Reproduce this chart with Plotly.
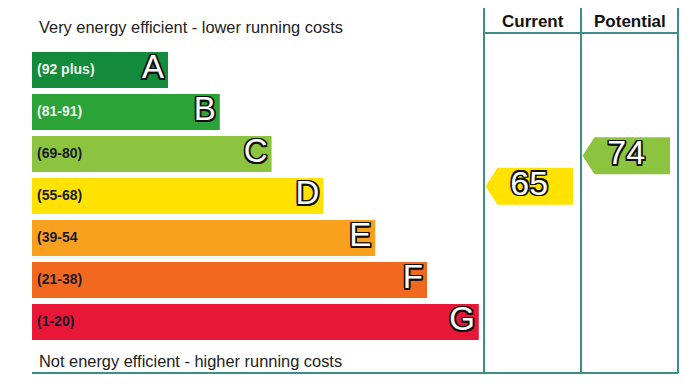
import numpy as np
import plotly.graph_objects as go

# ---- data ----
bands = ["A", "B", "C", "D", "E", "F", "G"]
range_labels = ["(92 plus)", "(81-91)", "(69-80)", "(55-68)", "(39-54", "(21-38)", "(1-20)"]
band_low = [92, 81, 69, 55, 39, 21, 1]
band_high = [100, 91, 80, 68, 54, 38, 20]
current_score = 65
potential_score = 74
columns = ["Current", "Potential"]
top_caption = "Very energy efficient - lower running costs"
bottom_caption = "Not energy efficient - higher running costs"

# ---- styles / layout constants ----
band_colors = ["#138a3c", "#2ca336", "#8dc43f", "#ffe200", "#f9a11e", "#f3681f", "#e81737"]
label_colors = ["#eef5ee", "#eef5ee", "#1a1a2a", "#1a1a2a", "#1a1a2a", "#1a1a2a", "#1a1a2a"]
LINE = "#3f8d8b"
BAR_LEFT = 32
BAR_FIRST_LEN = 136
BAR_STEP = 51.8
ROW0 = 70
ROW_PITCH = 42
BAR_H = 36
COL_X = [484, 581, 678]
TOP_Y, HEAD_Y, BOTTOM_Y = 8, 33, 373
FONT = "Liberation Sans, Arial, sans-serif"
PAGE_MARGIN = 8  # default body margin of the html page
W, H = 700, 391

n = len(bands)
idx = np.arange(n)
centers = ROW0 + ROW_PITCH * idx
lengths = BAR_FIRST_LEN + BAR_STEP * idx
ends = BAR_LEFT + lengths

outline = ", ".join(f"{dx}px {dy}px 0 #111" for dx, dy in
                    [(-1.5, -1.5), (1.5, -1.5), (-1.5, 1.5), (1.5, 1.5),
                     (0, 1.6), (0, -1.6), (1.6, 0), (-1.6, 0)])

fig = go.Figure()

fig.add_trace(go.Bar(
    orientation="h", y=centers, x=lengths, base=BAR_LEFT, width=BAR_H,
    marker=dict(color=band_colors, line=dict(width=0)), hoverinfo="skip"))

# range labels
fig.add_trace(go.Scatter(
    x=[BAR_LEFT + 5] * n, y=centers, mode="text", text=range_labels,
    textposition="middle right",
    textfont=dict(family=FONT, size=14, color=label_colors, weight="bold"),
    hoverinfo="skip"))

# band letters
fig.add_trace(go.Scatter(
    x=ends - 4, y=centers, mode="text", text=bands,
    textposition="middle left",
    textfont=dict(family=FONT, size=33, color="white", shadow=outline),
    hoverinfo="skip"))


def score_to_y(s):
    for i in range(n):
        if s >= band_low[i]:
            top = centers[i] - BAR_H / 2
            frac = (band_high[i] - s) / (band_high[i] - band_low[i])
            return top + frac * BAR_H, i
    return centers[-1], n - 1


for k, s in enumerate([current_score, potential_score]):
    yc, bi = score_to_y(s)
    xl, xr = COL_X[k], COL_X[k + 1]
    tip = xl + 1.5
    notch = tip + 12
    right = xr - 8
    h = 37 / 2
    fig.add_trace(go.Scatter(
        x=[tip, notch, right, right, notch, tip],
        y=[yc, yc - h, yc - h, yc + h, yc + h, yc],
        mode="lines", fill="toself", fillcolor=band_colors[bi],
        line=dict(width=0, color=band_colors[bi]), hoverinfo="skip"))
    fig.add_trace(go.Scatter(
        x=[(tip + right) / 2], y=[yc], mode="text", text=[str(s)],
        textposition="middle center",
        textfont=dict(family=FONT, size=34, color="white", shadow=outline),
        hoverinfo="skip"))
    fig.add_annotation(x=(xl + xr) / 2, y=(TOP_Y + HEAD_Y) / 2 + 1, text=f"<b>{columns[k]}</b>",
                       showarrow=False, font=dict(family=FONT, size=17, color="#111"),
                       xanchor="center", yanchor="middle")

# captions
fig.add_annotation(x=BAR_LEFT + 5, y=27, text=top_caption, showarrow=False,
                   xanchor="left", yanchor="middle",
                   font=dict(family=FONT, size=16.4, color="#222"))
fig.add_annotation(x=BAR_LEFT + 5, y=360.5, text=bottom_caption, showarrow=False,
                   xanchor="left", yanchor="middle",
                   font=dict(family=FONT, size=16.4, color="#222"))

# frame lines
for xc in COL_X:
    fig.add_shape(type="line", x0=xc, x1=xc, y0=TOP_Y, y1=BOTTOM_Y,
                  line=dict(color=LINE, width=2), layer="above")
fig.add_shape(type="line", x0=COL_X[0], x1=COL_X[-1], y0=HEAD_Y, y1=HEAD_Y,
              line=dict(color=LINE, width=2))
fig.add_shape(type="line", x0=BAR_LEFT, x1=COL_X[-1], y0=BOTTOM_Y, y1=BOTTOM_Y,
              line=dict(color=LINE, width=2))

fig.update_layout(
    width=W - 2 * PAGE_MARGIN, height=H - 2 * PAGE_MARGIN,
    margin=dict(l=0, r=0, t=0, b=0),
    paper_bgcolor="white", plot_bgcolor="white", showlegend=False,
    xaxis=dict(range=[PAGE_MARGIN, W - PAGE_MARGIN], visible=False, fixedrange=True),
    yaxis=dict(range=[H - PAGE_MARGIN, PAGE_MARGIN], visible=False, fixedrange=True),
)

fig.write_html("out.html")
